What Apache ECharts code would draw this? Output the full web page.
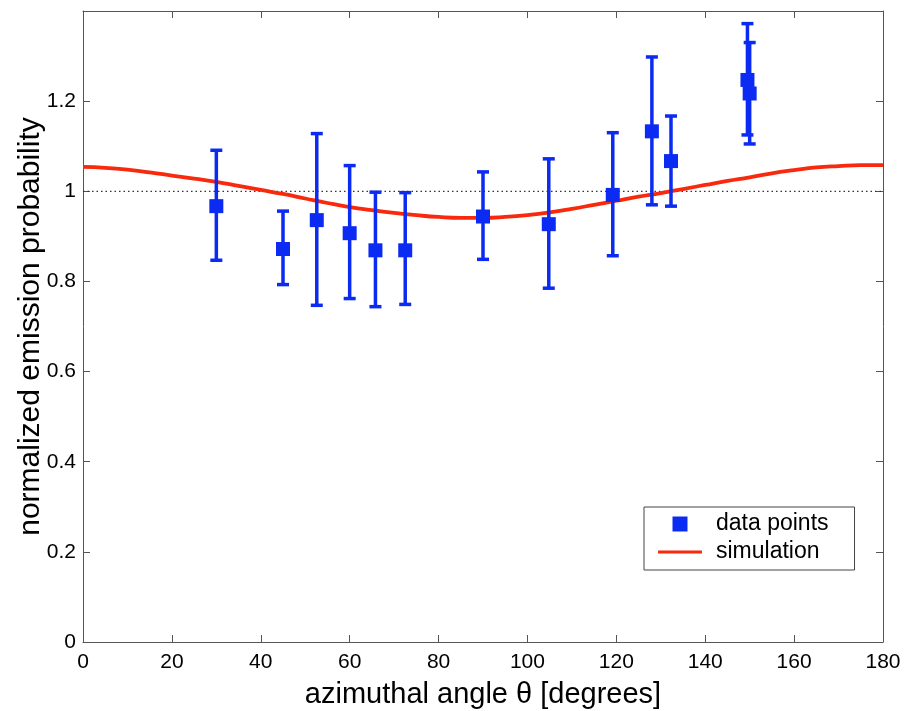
<!DOCTYPE html>
<html>
<head>
<meta charset="utf-8">
<script src="https://cdn.jsdelivr.net/npm/echarts@6/dist/echarts.min.js"></script>
<style>
html,body{margin:0;padding:0;background:#fff;}
#chart{width:908px;height:711px;}
</style>
</head>
<body>
<div id="chart"></div>
<script>
// Measured data points: angle, value, error-bar low, error-bar high
const angles = [30, 45, 52.6, 60, 65.8, 72.5, 90, 104.8, 119.2, 128, 132.3, 149.5, 150];
const values = [0.967, 0.872, 0.936, 0.907, 0.869, 0.869, 0.944, 0.927, 0.992, 1.133, 1.067, 1.247, 1.217];
const errLow = [0.847, 0.793, 0.747, 0.762, 0.744, 0.749, 0.849, 0.785, 0.857, 0.970, 0.967, 1.125, 1.105];
const errHigh = [1.091, 0.956, 1.128, 1.057, 0.998, 0.997, 1.043, 1.072, 1.130, 1.298, 1.167, 1.372, 1.330];

// Simulation curve
const simAngles = [0,5,10,15,20,25,30,35,40,45,50,55,60,65,70,75,80,85,90,95,100,105,110,115,120,125,130,135,140,145,150,155,160,165,170,175,180];
const simValues = [1.054,1.052,1.048,1.042,1.035,1.028,1.021,1.012,1.003,0.994,0.984,0.974,0.965,0.958,0.952,0.947,0.943,0.941,0.941,0.943,0.947,0.953,0.961,0.970,0.979,0.988,0.996,1.005,1.014,1.023,1.031,1.040,1.047,1.053,1.056,1.058,1.058];

// Reference line
const refAngles = [0, 180];
const refValues = [1, 1];

const xTicks = [0,20,40,60,80,100,120,140,160,180];
const yTicks = [0,0.2,0.4,0.6,0.8,1,1.2];

const BLUE = '#0b2af2';
const RED = '#f8290c';
const FONT = '"Liberation Sans", Arial, sans-serif';

const chart = echarts.init(document.getElementById('chart'));

function axisCommon() {
  return {
    axisLine: {show: true, onZero: false, lineStyle: {color: '#555', width: 1}},
    axisTick: {show: true, inside: true, length: 7, lineStyle: {color: '#555'}},
    splitLine: {show: false}
  };
}

const option = {
  backgroundColor: '#fff',
  animation: false,
  grid: {left: 83, right: 25, top: 11, bottom: 69, containLabel: false, outerBoundsMode: 'none'},
  xAxis: [
    Object.assign({
      type: 'value', min: 0, max: 180, interval: 20, position: 'bottom',
      name: 'azimuthal angle θ [degrees]', nameLocation: 'middle', nameGap: 38,
      nameTextStyle: {fontSize: 29, color: '#000', fontFamily: FONT},
      axisLabel: {fontSize: 21, color: '#000', fontFamily: FONT, margin: 10,
        formatter: v => xTicks.indexOf(v) >= 0 ? String(v) : ''}
    }, axisCommon()),
    Object.assign({
      type: 'value', min: 0, max: 180, interval: 20, position: 'top',
      axisLabel: {show: false}
    }, axisCommon())
  ],
  yAxis: [
    Object.assign({
      type: 'value', min: 0, max: 1.4, interval: 0.2, position: 'left',
      name: 'normalized emission probability', nameLocation: 'middle', nameGap: 37,
      nameMoveOverlap: false,
      nameTextStyle: {fontSize: 30, color: '#000', fontFamily: FONT},
      axisLabel: {fontSize: 21, color: '#000', fontFamily: FONT, margin: 7, showMaxLabel: false,
        formatter: v => {
          const r = Math.round(v * 10) / 10;
          return yTicks.some(t => Math.abs(t - r) < 1e-9) ? String(r) : '';
        }}
    }, axisCommon()),
    Object.assign({
      type: 'value', min: 0, max: 1.4, interval: 0.2, position: 'right',
      axisLabel: {show: false}
    }, axisCommon())
  ],
  legend: {
    left: 644, top: 507, orient: 'vertical',
    backgroundColor: '#fff', borderColor: '#444', borderWidth: 1,
    padding: [5, 26, 6, 14], itemGap: 4, itemWidth: 44, itemHeight: 15,
    symbolKeepAspect: true,
    textStyle: {fontSize: 23, lineHeight: 24, color: '#000', fontFamily: FONT, padding: [0, 0, 0, 9]},
    data: [
      {name: 'data points', icon: 'path://M0,0h10v10h-10z', itemStyle: {color: BLUE}},
      {name: 'simulation', icon: 'path://M0,0h44v3h-44z', itemStyle: {color: RED}}
    ]
  },
  series: [
    {
      name: 'ref', type: 'line', silent: true, symbol: 'none', z: 1,
      data: refAngles.map((a, i) => [a, refValues[i]]),
      lineStyle: {color: '#333', width: 1.2, type: [1.5, 3]}
    },
    {
      name: 'simulation', type: 'line', symbol: 'none', smooth: true, z: 2,
      data: simAngles.map((a, i) => [a, simValues[i]]),
      lineStyle: {color: RED, width: 3.8},
      itemStyle: {color: RED}
    },
    {
      name: 'errors', type: 'custom', z: 3,
      data: angles.map((a, i) => [a, errLow[i], errHigh[i]]),
      renderItem: function (params, api) {
        const x = api.value(0);
        const lo = api.coord([x, api.value(1)]);
        const hi = api.coord([x, api.value(2)]);
        const hw = 6;
        const style = {stroke: BLUE, lineWidth: 3.5};
        return {
          type: 'group',
          children: [
            {type: 'line', shape: {x1: lo[0], y1: lo[1], x2: hi[0], y2: hi[1]}, style: style},
            {type: 'line', shape: {x1: lo[0] - hw, y1: lo[1], x2: lo[0] + hw, y2: lo[1]}, style: style},
            {type: 'line', shape: {x1: hi[0] - hw, y1: hi[1], x2: hi[0] + hw, y2: hi[1]}, style: style}
          ]
        };
      },
      encode: {x: 0, y: [1, 2]}
    },
    {
      name: 'data points', type: 'scatter', symbol: 'rect', symbolSize: 14, z: 4,
      data: angles.map((a, i) => [a, values[i]]),
      itemStyle: {color: BLUE, opacity: 1}
    }
  ]
};
chart.setOption(option);
</script>
</body>
</html>
